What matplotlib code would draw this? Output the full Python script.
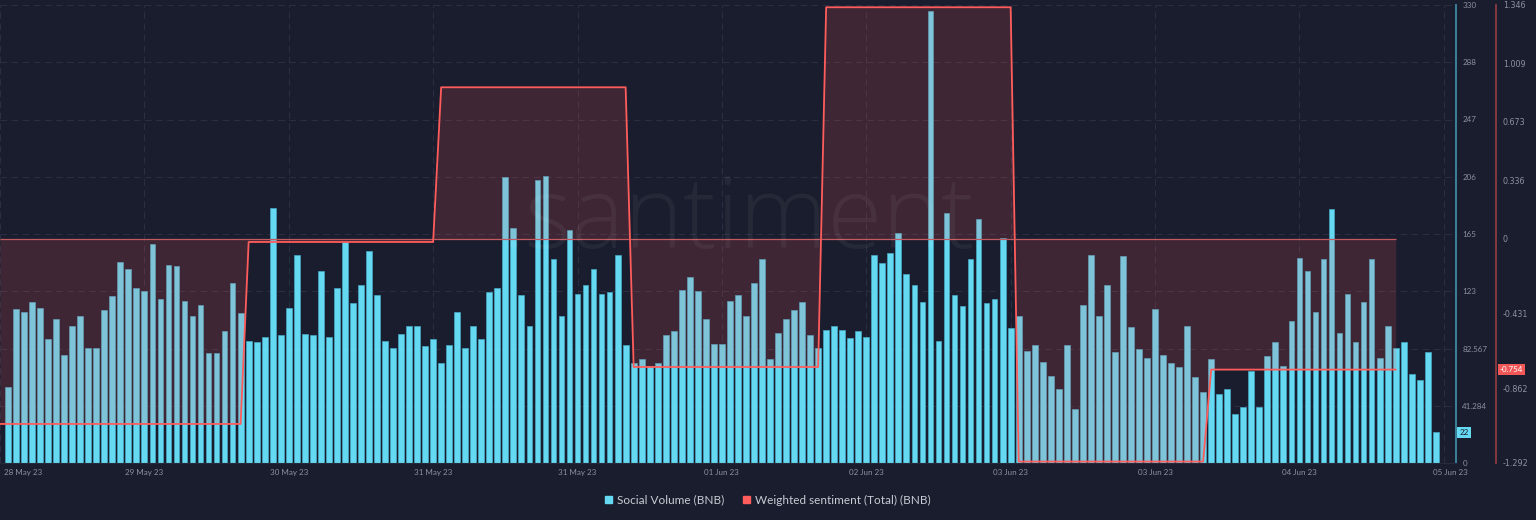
import matplotlib
matplotlib.use('Agg')
import matplotlib.pyplot as plt
import matplotlib.transforms as mtransforms
from matplotlib.patches import Patch
import numpy as np

# hourly social volume (BNB)
social_volume = [55, 111, 109, 116, 112, 89, 104, 78, 99, 106,
                 83, 83, 110, 120, 145, 140, 126, 124, 158, 118,
                 143, 142, 117, 106, 114, 79, 79, 95, 130, 108,
                 88, 87, 91, 184, 92, 112, 150, 93, 92, 138,
                 91, 126, 159, 115, 128, 153, 121, 88, 83, 93,
                 99, 99, 84, 89, 72, 85, 109, 83, 99, 89,
                 123, 126, 206, 169, 121, 99, 204, 207, 147, 106,
                 168, 122, 128, 140, 122, 123, 150, 85, 72, 75,
                 70, 72, 92, 95, 125, 134, 124, 104, 86, 86,
                 117, 121, 106, 130, 147, 75, 94, 104, 110, 116,
                 92, 83, 96, 99, 96, 90, 95, 91, 150, 144,
                 151, 166, 136, 128, 116, 326, 88, 180, 121, 113,
                 147, 176, 115, 118, 162, 97, 106, 81, 85, 73,
                 63, 53, 85, 39, 114, 150, 106, 128, 80, 149,
                 98, 82, 76, 111, 78, 72, 69, 99, 62, 51,
                 75, 50, 53, 35, 40, 66, 40, 77, 87, 70,
                 102, 148, 138, 109, 147, 183, 94, 122, 87, 116,
                 147, 76, 99, 83, 87, 64, 60, 80, 22]

# weighted sentiment: one value per day, held over that day's hours
sentiment_days = [-1.067, -0.019, 0.872, -0.739, 1.333, -1.284, -0.754]
sentiment_day_start = [-1, 30, 54, 78, 102, 126, 150]
sentiment_last_hour = 173

date_ticks = [-1, 17, 35, 53, 71, 89, 107, 125, 143, 161, 179]
date_labels = ['28 May 23', '29 May 23', '30 May 23', '31 May 23', '31 May 23', '01 Jun 23',
               '02 Jun 23', '03 Jun 23', '03 Jun 23', '04 Jun 23', '05 Jun 23']

vol_ticks = [0, 41.25, 82.5, 123.75, 165, 206.25, 247.5, 288.75, 330]
vol_labels = ['0', '41.284', '82.567', '123', '165', '206', '247', '288', '330']
sent_ticks = [-1.292, -0.862, -0.431, 0, 0.336, 0.673, 1.009, 1.346]
sent_labels = ['-1.292', '-0.862', '-0.431', '0', '0.336', '0.673', '1.009', '1.346']

bg = '#1a1d2d'
cyan = '#66d9f2'
red = '#ff5c5c'
grey = '#8c90a0'
font = ['Lato', 'DejaVu Sans']

# expand daily sentiment into hourly points
ends = sentiment_day_start[1:] + [sentiment_last_hour + 1]
sent_x = np.concatenate([np.arange(s, e) for s, e in zip(sentiment_day_start, ends)])
sent_y = np.concatenate([np.full(e - s, v) for s, e, v in zip(sentiment_day_start, ends, sentiment_days)])

fig = plt.figure(figsize=(15.36, 5.2), dpi=100, facecolor=bg)
ax = fig.add_axes([0, 57 / 520, 1455.5 / 1536, 458 / 520], facecolor=bg)

x = np.arange(len(social_volume))
ax.bar(x, social_volume, width=0.72, color=cyan, edgecolor='#45a8c2', linewidth=0.5, zorder=2)
ax.set_xlim(-0.91, 180.46)
ax.set_ylim(0, 330)

# sentiment on its own axis
ax2 = ax.twinx()
ax2.fill_between(sent_x, sent_y, 0, color='#ff5a5a', alpha=0.16, linewidth=0)
ax2.hlines(0, sent_x[0], sent_x[-1], color='#c25a60', linewidth=0.9)
ax2.plot(sent_x, sent_y, color=red, linewidth=1.3)
ax2.set_ylim(-1.292, 1.346)

# twinx moves the first axis' ticks to the left, put them back on the right
ax.yaxis.tick_right()
ax.yaxis.set_label_position('right')
ax.set_yticks(vol_ticks)
ax.set_yticklabels(vol_labels)
ax.set_xticks(date_ticks)
ax.set_xticklabels(date_labels)
ax.tick_params(axis='y', length=0, pad=5, labelsize=5.8, labelcolor=grey)
ax.tick_params(axis='x', length=0, pad=4, labelsize=5.8, labelcolor=grey)
for lab in ax.get_yticklabels() + ax.get_xticklabels():
    lab.set_family(font)

# first / last date labels are nudged inside like the original
xl = ax.get_xticklabels()
xl[0].set_transform(xl[0].get_transform() + mtransforms.ScaledTranslation(4 / 100, 0, fig.dpi_scale_trans))
xl[0].set_ha('left')
xl[-1].set_transform(xl[-1].get_transform() + mtransforms.ScaledTranslation(7 / 100, 0, fig.dpi_scale_trans))

ax.grid(True, color='#2a2e40', linestyle=(0, (6, 4)), linewidth=0.8, zorder=0)
ax.set_axisbelow(True)

for s in ['top', 'left']:
    ax.spines[s].set_visible(False)
ax.spines['bottom'].set_color('#262a3a')
ax.spines['right'].set_color('#3e8aa3')
ax.spines['right'].set_linewidth(1.3)

ax2.set_yticks(sent_ticks)
ax2.set_yticklabels(sent_labels)
ax2.tick_params(axis='y', length=0, pad=5, labelsize=5.8, labelcolor=grey)
for lab in ax2.get_yticklabels():
    lab.set_family(font)
for s in ['top', 'left', 'bottom']:
    ax2.spines[s].set_visible(False)
ax2.spines['right'].set_position(('axes', 1496 / 1455.5))
ax2.spines['right'].set_color('#8b3a40')
ax2.spines['right'].set_linewidth(1.3)

# last-value badges
tr1 = mtransforms.blended_transform_factory(ax.transAxes, ax.transData)
ax.text(1 + 4 / 1455.5, social_volume[-1], str(social_volume[-1]), transform=tr1,
        fontsize=5.8, family=font, color='#1a1d2d', ha='left', va='center',
        bbox=dict(boxstyle='square,pad=0.25', facecolor=cyan, edgecolor='none'), clip_on=False)
tr2 = mtransforms.blended_transform_factory(ax2.transAxes, ax2.transData)
ax2.text(1496 / 1455.5 + 4 / 1455.5, sentiment_days[-1], f'{sentiment_days[-1]:.3f}', transform=tr2,
         fontsize=5.8, family=font, color='white', ha='left', va='center',
         bbox=dict(boxstyle='square,pad=0.25', facecolor='#f25757', edgecolor='none'), clip_on=False)

# watermark
fig.text(738 / 1536, 1 - 222 / 520, '.santiment', fontsize=72, family=['Open Sans', 'DejaVu Sans'],
         weight='light', color='white', alpha=0.05, ha='center', va='center')

handles = [Patch(color=cyan), Patch(color=red)]
leg = fig.legend(handles, ['Social Volume (BNB)', 'Weighted sentiment (Total) (BNB)'],
                 loc='center', bbox_to_anchor=(0.5, 20 / 520), ncol=2, frameon=False,
                 labelcolor='#c8ccd4', handlelength=0.6, handleheight=0.6,
                 handletextpad=0.4, columnspacing=1.6, prop={'family': font, 'size': 8.5})

fig.savefig('out.png', dpi=100, facecolor=bg)
